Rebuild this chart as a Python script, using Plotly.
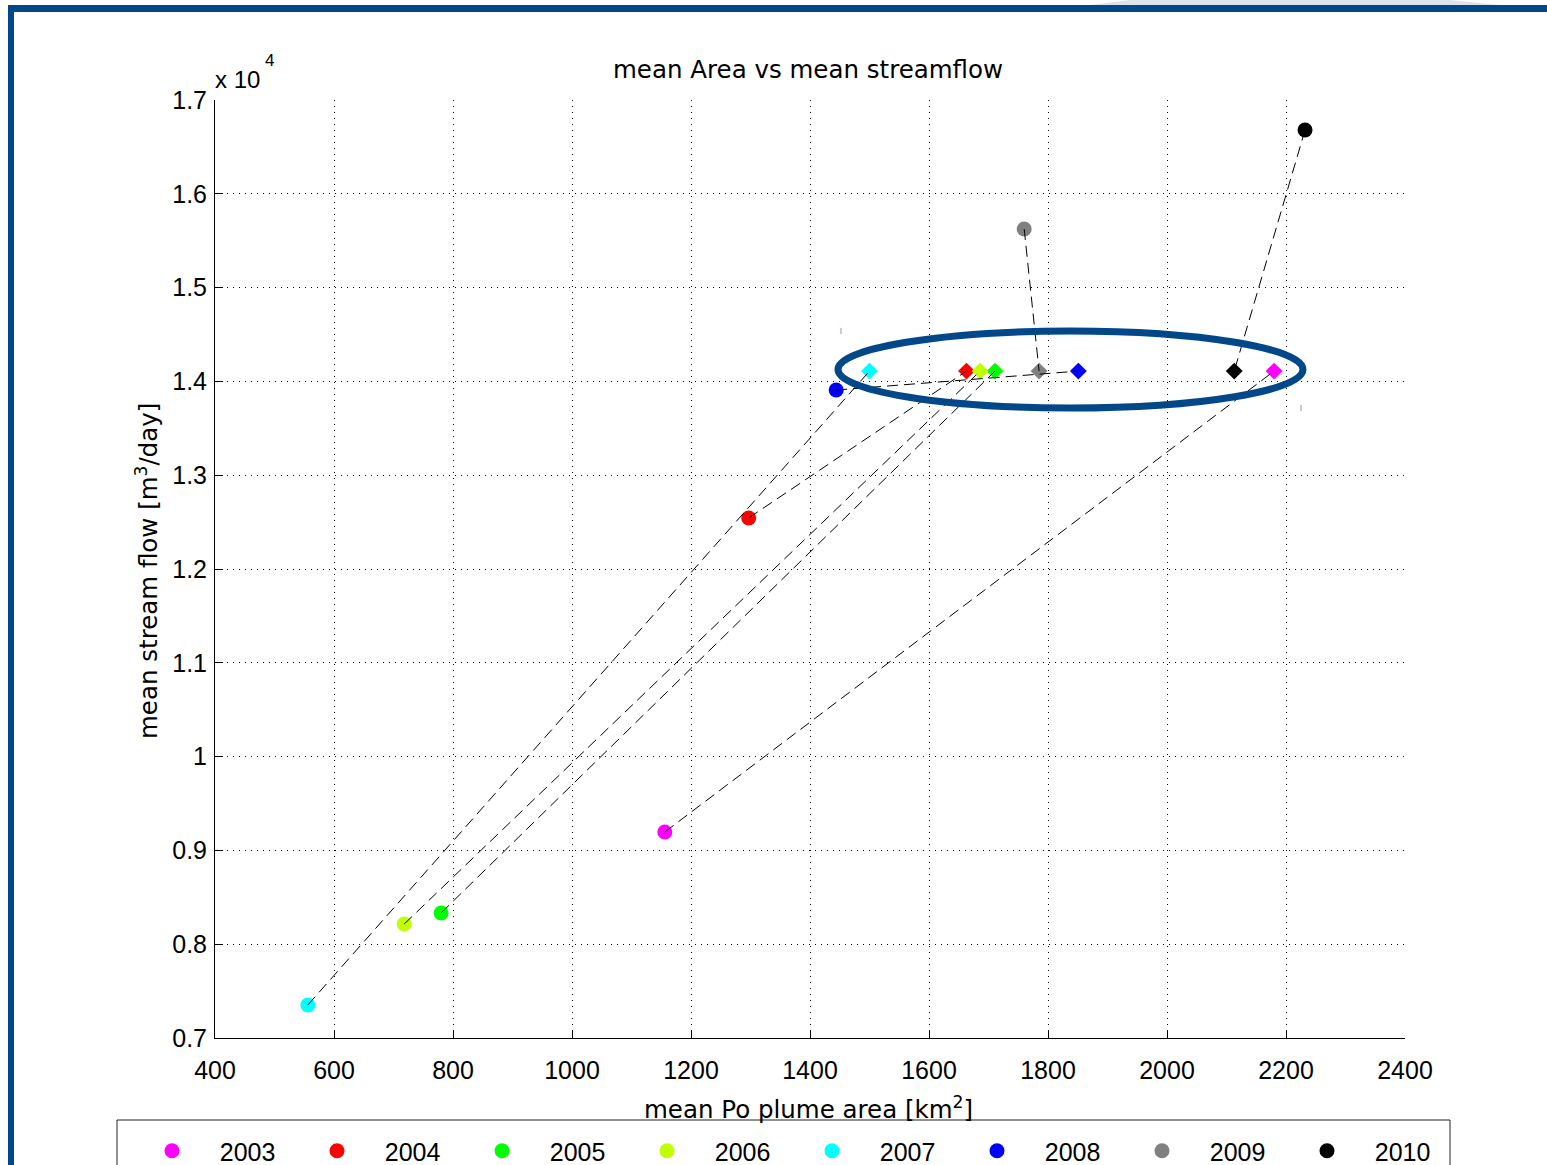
import plotly.graph_objects as go

# ---------------- data ----------------
years = ["2003", "2004", "2005", "2006", "2007", "2008", "2009", "2010"]
colors = ["#FF00FF", "#FF0000", "#00FF00", "#BFFF00", "#00FFFF", "#0000FF", "#808080", "#000000"]
# mean plume area [km^2] and mean stream flow [m^3/day] (circles)
area_mean = [1156, 1297, 780, 718, 556, 1444, 1760, 2232]
flow_mean = [9196, 12544, 8333, 8215, 7352, 13908, 15625, 16680]
# second point per year (diamonds)
area_d = [2180, 1663, 1711, 1686, 1500, 1851, 1785, 2113]
flow_d = [14110, 14110, 14110, 14110, 14110, 14110, 14110, 14110]

x_ticks = [400, 600, 800, 1000, 1200, 1400, 1600, 1800, 2000, 2200, 2400]
y_ticks = [7000, 8000, 9000, 10000, 11000, 12000, 13000, 14000, 15000, 16000, 17000]
y_ticktext = ["0.7", "0.8", "0.9", "1", "1.1", "1.2", "1.3", "1.4", "1.5", "1.6", "1.7"]

W, H = 1547, 1165
L, R, T, B = 215, 1405, 100, 1038


def px(xp):
    return (xp - L) / (R - L)


def py(yp):
    return (B - yp) / (B - T)


FONT = "Liberation Sans, Arial, Helvetica, sans-serif"
TFONT = "DejaVu Sans, sans-serif"
BLUE = "#02478A"
NB = "\u00a0" * 4

fig = go.Figure()

# circles (carry the legend)
for i, yr in enumerate(years):
    fig.add_trace(go.Scatter(
        x=[area_mean[i]], y=[flow_mean[i]], mode="markers", name=NB + yr,
        marker=dict(symbol="circle", size=15, color=colors[i], line=dict(width=0)),
    ))
# diamonds
for i, yr in enumerate(years):
    fig.add_trace(go.Scatter(
        x=[area_d[i]], y=[flow_d[i]], mode="markers", showlegend=False,
        marker=dict(symbol="diamond", size=13, color=colors[i], line=dict(width=0)),
    ))
# dashed connectors
for i, yr in enumerate(years):
    fig.add_trace(go.Scatter(
        x=[area_mean[i], area_d[i]], y=[flow_mean[i], flow_d[i]], mode="lines",
        showlegend=False, line=dict(color="black", width=1, dash="11px,6px"),
    ))

shapes = [
    # highlight ellipse
    dict(type="circle", xref="paper", yref="paper",
         x0=px(838), x1=px(1303), y0=py(408), y1=py(331),
         line=dict(color=BLUE, width=7)),
    # small handle marks
    dict(type="line", xref="paper", yref="paper", x0=px(841), x1=px(841), y0=py(334), y1=py(328),
         line=dict(color="#7f9fc0", width=1)),
    dict(type="line", xref="paper", yref="paper", x0=px(1301), x1=px(1301), y0=py(411), y1=py(405),
         line=dict(color="#7f9fc0", width=1)),
    # legend box
    dict(type="rect", xref="paper", yref="paper", x0=px(117), x1=px(1450), y0=py(1175), y1=py(1120),
         fillcolor="white", line=dict(color="#222222", width=1), layer="above"),
    # outer frame
    dict(type="path", xref="paper", yref="paper",
         path=f"M {px(1090)} {py(5)} L {px(1130)} {py(0)} L {px(1450)} {py(0)} L {px(1500)} {py(5)} Z",
         fillcolor="#dde3ea", line=dict(width=0), layer="above"),
    dict(type="rect", xref="paper", yref="paper", x0=px(8), x1=px(1547), y0=py(12), y1=py(5),
         fillcolor=BLUE, line=dict(width=0), layer="above"),
    dict(type="rect", xref="paper", yref="paper", x0=px(8), x1=px(14), y0=py(1165), y1=py(5),
         fillcolor=BLUE, line=dict(width=0), layer="above"),
]

annotations = [
    dict(text="mean Area vs mean streamflow", xref="paper", yref="paper",
         x=px(808), y=py(70), xanchor="center", yanchor="middle", showarrow=False,
         font=dict(family=TFONT, size=24.5, color="black")),
    dict(text="x 10", xref="paper", yref="paper",
         x=px(213), y=py(79), xanchor="left", yanchor="middle", showarrow=False,
         font=dict(family=FONT, size=24, color="black")),
    dict(text="4", xref="paper", yref="paper",
         x=px(263), y=py(60), xanchor="left", yanchor="middle", showarrow=False,
         font=dict(family=FONT, size=17, color="black")),
    dict(text="mean stream flow [m<sup>3</sup>/day]", xref="paper", yref="paper",
         x=px(147), y=py(571), xanchor="center", yanchor="middle", textangle=-90, showarrow=False,
         font=dict(family=TFONT, size=24.5, color="black")),
    dict(text="mean Po plume area [km<sup>2</sup>]", xref="paper", yref="paper",
         x=px(808), y=py(1108), xanchor="center", yanchor="middle", showarrow=False,
         font=dict(family=TFONT, size=24.5, color="black")),
]

fig.update_layout(
    width=W, height=H, autosize=False,
    margin=dict(l=L, r=W - R, t=T, b=H - B, pad=0, autoexpand=False),
    paper_bgcolor="white", plot_bgcolor="white",
    font=dict(family=FONT, size=25, color="black"),
    shapes=shapes, annotations=annotations,
    showlegend=True,
    legend=dict(
        orientation="h", x=px(152), y=py(1128), xanchor="left", yanchor="top",
        bgcolor="rgba(0,0,0,0)", borderwidth=0,
        font=dict(family=FONT, size=25, color="black"),
        entrywidth=120, entrywidthmode="pixels", itemsizing="trace",
    ),
)

fig.update_xaxes(
    range=[400, 2400], tickvals=x_ticks, ticktext=[str(v) for v in x_ticks],
    showline=True, linecolor="black", linewidth=1, mirror=False,
    ticks="inside", ticklen=8, tickcolor="black", ticklabelstandoff=10,
    showgrid=True, gridcolor="black", gridwidth=1, griddash="1px,5px",
    zeroline=False, tickfont=dict(size=25),
)
fig.update_yaxes(
    range=[7000, 17000], tickvals=y_ticks, ticktext=y_ticktext,
    showline=True, linecolor="black", linewidth=1, mirror=False,
    ticks="inside", ticklen=8, tickcolor="black", ticklabelstandoff=2,
    showgrid=True, gridcolor="black", gridwidth=1, griddash="1px,5px",
    zeroline=False, tickfont=dict(size=25),
)

fig.write_html(
    "out.html",
    config={"displayModeBar": False},
    post_script="document.body.style.margin='0px';document.body.style.overflow='hidden';",
)
